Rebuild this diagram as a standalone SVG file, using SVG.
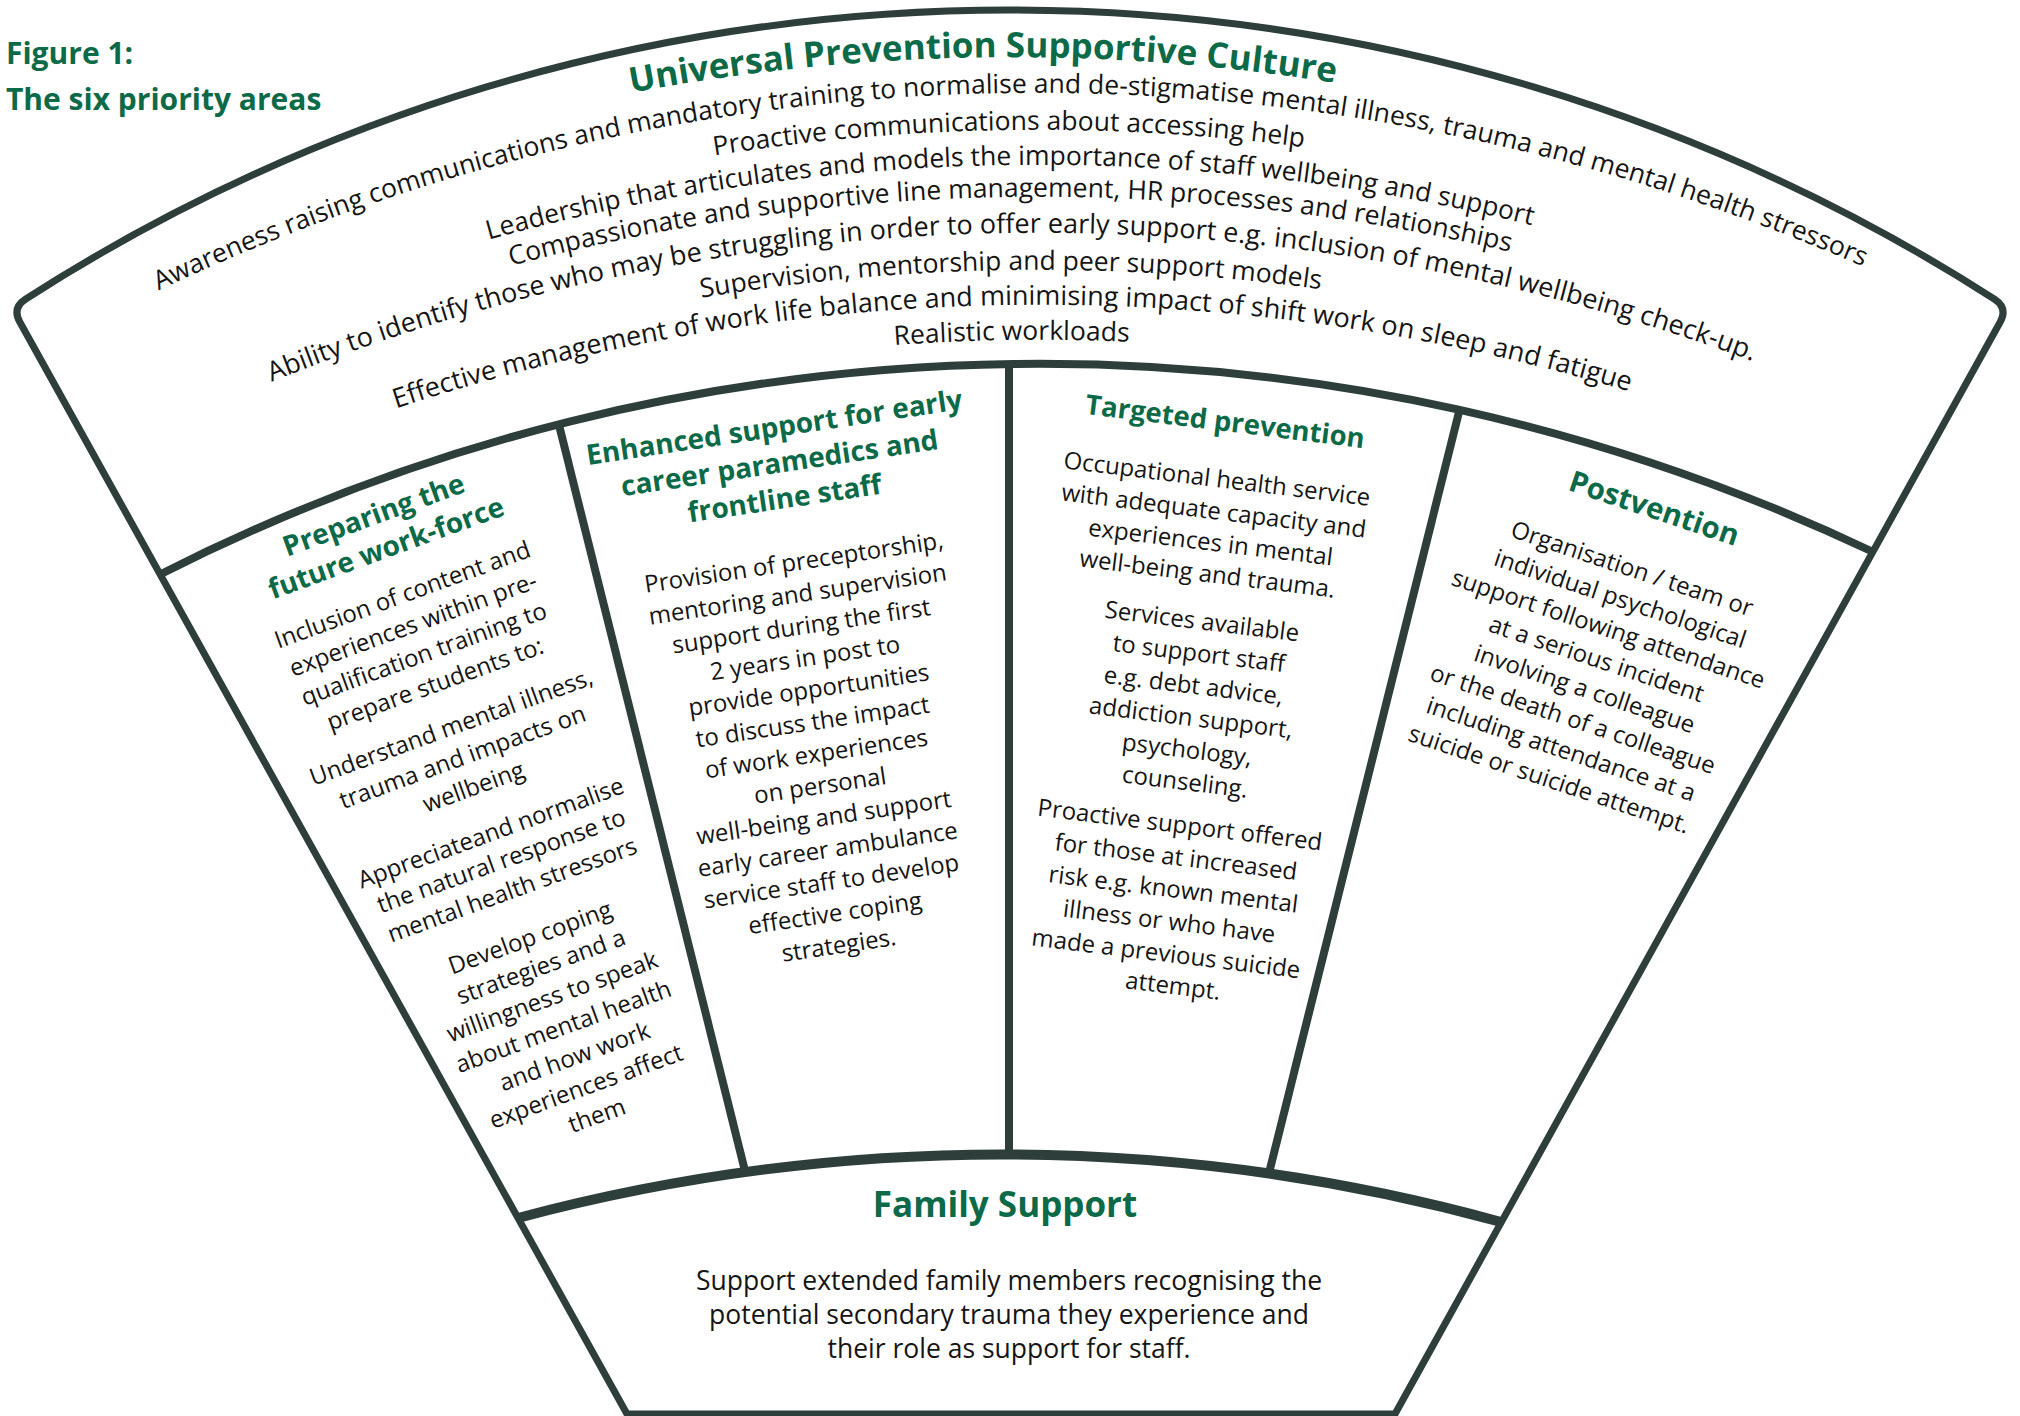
<svg xmlns="http://www.w3.org/2000/svg" width="2020" height="1416" viewBox="0 0 2020 1416">
  <defs>
    <style>
      .frame{fill:none;stroke:#2e3f3b;stroke-linecap:butt;stroke-linejoin:round}
      .hd{font-family:'Open Sans','Noto Sans','DejaVu Sans',sans-serif;font-weight:700;fill:#0d6a48}
      .tx{font-family:'Open Sans','Noto Sans','DejaVu Sans',sans-serif;fill:#151515}
      .mid{text-anchor:middle}
      .u{font-size:26.5px}
      .col{font-size:24px}
      .colhd{font-size:28px}
    </style>
    <!-- baseline arcs for the curved lines of the top band (radius 2050, apex at x=1010 or 985) -->
    <path id="arcTitle" d="M -332.7 536.6 A 2050 2050 0 0 1 2302.7 536.6"/>
    <path id="arcU1" d="M -307.7 572.6 A 2050 2050 0 0 1 2327.7 572.6"/>
    <path id="arcU2" d="M -307.7 609.6 A 2050 2050 0 0 1 2327.7 609.6"/>
    <path id="arcU3" d="M -307.7 644.6 A 2050 2050 0 0 1 2327.7 644.6"/>
    <path id="arcU4" d="M -307.7 676.6 A 2050 2050 0 0 1 2327.7 676.6"/>
    <path id="arcU5" d="M -307.7 712.6 A 2050 2050 0 0 1 2327.7 712.6"/>
    <path id="arcU6" d="M -307.7 749.6 A 2050 2050 0 0 1 2327.7 749.6"/>
    <path id="arcU7" d="M -307.7 784.6 A 2050 2050 0 0 1 2327.7 784.6"/>
    <path id="arcU8" d="M -307.7 819.6 A 2050 2050 0 0 1 2327.7 819.6"/>
  </defs>

  <rect width="2020" height="1416" fill="#ffffff"/>

  <!-- caption -->
  <g id="caption">
    <text class="hd" x="6" y="64" font-size="30">Figure 1:</text>
    <text class="hd" x="6" y="110" font-size="30">The six priority areas</text>
  </g>

  <!-- fan outline and the boundaries between the areas -->
  <g id="connectors" class="frame">
    <path d="M 19.8 322 Q 12 308 25.4 299.2 A 1821 1821 0 0 1 1994.6 299.2 Q 2008 308 2000.2 322 L 1395 1414 L 627 1414 Z" stroke-width="7"/>
    <path d="M 161 574 A 1940.5 1940.5 0 0 1 1871 551" stroke-width="8"/>
    <path d="M 518 1218 A 1876 1876 0 0 1 1501 1222" stroke-width="10"/>
    <line x1="559" y1="425" x2="745" y2="1171" stroke-width="8"/>
    <line x1="1009" y1="364" x2="1009" y2="1156" stroke-width="8"/>
    <line x1="1459" y1="412" x2="1269" y2="1173" stroke-width="8"/>
  </g>

  <!-- top band: the whole block leans slightly up to the right -->
  <g id="universal" transform="rotate(-0.8 1010 220)">
    <text class="hd mid" font-size="35"><textPath href="#arcTitle" startOffset="50%">Universal Prevention Supportive Culture</textPath></text>
    <text class="tx mid u"><textPath href="#arcU1" startOffset="50%">Awareness raising communications and mandatory training to normalise and de-stigmatise mental illness, trauma and mental health stressors</textPath></text>
    <text class="tx mid u"><textPath href="#arcU2" startOffset="50%">Proactive communications about accessing help</textPath></text>
    <text class="tx mid u"><textPath href="#arcU3" startOffset="50%">Leadership that articulates and models the importance of staff wellbeing and support</textPath></text>
    <text class="tx mid u"><textPath href="#arcU4" startOffset="50%">Compassionate and supportive line management, HR processes and relationships</textPath></text>
    <text class="tx mid" font-size="27"><textPath href="#arcU5" startOffset="50%">Ability to identify those who may be struggling in order to offer early support e.g. inclusion of mental wellbeing check-up.</textPath></text>
    <text class="tx mid u"><textPath href="#arcU6" startOffset="50%">Supervision, mentorship and peer support models</textPath></text>
    <text class="tx mid" font-size="27"><textPath href="#arcU7" startOffset="50%">Effective management of work life balance and minimising impact of shift work on sleep and fatigue</textPath></text>
    <text class="tx mid u"><textPath href="#arcU8" startOffset="50%">Realistic workloads</textPath></text>
  </g>

  <!-- column 1 -->
  <g id="preparing">
    <text class="hd mid colhd" transform="translate(377 524) rotate(-20)">Preparing the</text>
    <text class="hd mid colhd" transform="translate(389.5 557) rotate(-20)">future work-force</text>
    <text class="tx mid col" transform="translate(405.2 602.5) rotate(-20)">Inclusion of content and</text>
    <text class="tx mid col" transform="translate(415.9 632.2) rotate(-20)">experiences within pre-</text>
    <text class="tx mid col" transform="translate(426.6 661.6) rotate(-20)">qualification training to</text>
    <text class="tx mid col" transform="translate(437.8 691.7) rotate(-20)">prepare students to:</text>
    <text class="tx mid col" transform="translate(453.9 734.8) rotate(-20)">Understand mental illness,</text>
    <text class="tx mid col" transform="translate(465.2 764.7) rotate(-20)">trauma and impacts on</text>
    <text class="tx mid col" transform="translate(476.4 794.7) rotate(-20)">wellbeing</text>
    <text class="tx mid col" transform="translate(493.6 840.6) rotate(-20)">Appreciateand normalise</text>
    <text class="tx mid col" transform="translate(504.1 868.6) rotate(-20)">the natural response to</text>
    <text class="tx mid col" transform="translate(515 897.7) rotate(-20)">mental health stressors</text>
    <text class="tx mid col" transform="translate(532.9 945.4) rotate(-20)">Develop coping</text>
    <text class="tx mid col" transform="translate(543.8 974.4) rotate(-20)">strategies and a</text>
    <text class="tx mid col" transform="translate(555 1004.4) rotate(-20)">willingness to speak</text>
    <text class="tx mid col" transform="translate(566.2 1034.3) rotate(-20)">about mental health</text>
    <text class="tx mid col" transform="translate(577.5 1064.3) rotate(-20)">and how work</text>
    <text class="tx mid col" transform="translate(588.7 1094.2) rotate(-20)">experiences affect</text>
    <text class="tx mid col" transform="translate(599.6 1123.2) rotate(-20)">them</text>
  </g>

  <!-- column 2 -->
  <g id="enhanced">
    <text class="hd mid colhd" transform="translate(775.6 437) rotate(-8.5)">Enhanced support for early</text>
    <text class="hd mid colhd" transform="translate(781 472.5) rotate(-8.5)">career paramedics and</text>
    <text class="hd mid colhd" transform="translate(786 508) rotate(-8.5)">frontline staff</text>
    <text class="tx mid col" transform="translate(795 570.5) rotate(-8.5)">Provision of preceptorship,</text>
    <text class="tx mid col" transform="translate(798.8 602.4) rotate(-8.5)">mentoring and supervision</text>
    <text class="tx mid col" transform="translate(802.5 634.3) rotate(-8.5)">support during the first</text>
    <text class="tx mid col" transform="translate(806.3 666.2) rotate(-8.5)">2 years in post to</text>
    <text class="tx mid col" transform="translate(810 698.1) rotate(-8.5)">provide opportunities</text>
    <text class="tx mid col" transform="translate(813.8 730) rotate(-8.5)">to discuss the impact</text>
    <text class="tx mid col" transform="translate(817.5 761.9) rotate(-8.5)">of work experiences</text>
    <text class="tx mid col" transform="translate(821.3 793.8) rotate(-8.5)">on personal</text>
    <text class="tx mid col" transform="translate(825 825.7) rotate(-8.5)">well-being and support</text>
    <text class="tx mid col" transform="translate(828.8 857.6) rotate(-8.5)">early career ambulance</text>
    <text class="tx mid col" transform="translate(832.5 889.5) rotate(-8.5)">service staff to develop</text>
    <text class="tx mid col" transform="translate(836.3 921.4) rotate(-8.5)">effective coping</text>
    <text class="tx mid col" transform="translate(840 953.3) rotate(-8.5)">strategies.</text>
  </g>

  <!-- column 3 -->
  <g id="targeted">
    <text class="hd mid" font-size="27.5" transform="translate(1224 431) rotate(7)">Targeted prevention</text>
    <text class="tx mid col" transform="translate(1216 487) rotate(7)">Occupational health service</text>
    <text class="tx mid col" transform="translate(1212.8 519) rotate(7)">with adequate capacity and</text>
    <text class="tx mid col" transform="translate(1209.6 550.5) rotate(7)">experiences in mental</text>
    <text class="tx mid col" transform="translate(1206.4 582) rotate(7)">well-being and trauma.</text>
    <text class="tx mid col" transform="translate(1201 629.5) rotate(7)">Services available</text>
    <text class="tx mid col" transform="translate(1198 661.6) rotate(7)">to support staff</text>
    <text class="tx mid col" transform="translate(1192.5 693.7) rotate(7)">e.g. debt advice,</text>
    <text class="tx mid col" transform="translate(1190 725.8) rotate(7)">addiction support,</text>
    <text class="tx mid col" transform="translate(1186 757.9) rotate(7)">psychology,</text>
    <text class="tx mid col" transform="translate(1184 790) rotate(7)">counseling.</text>
    <text class="tx mid col" transform="translate(1179 833) rotate(7)">Proactive support offered</text>
    <text class="tx mid col" transform="translate(1175 865.2) rotate(7)">for those at increased</text>
    <text class="tx mid col" transform="translate(1172.3 897.4) rotate(7)">risk e.g. known mental</text>
    <text class="tx mid col" transform="translate(1168.3 929.6) rotate(7)">illness or who have</text>
    <text class="tx mid col" transform="translate(1165 961.8) rotate(7)">made a previous suicide</text>
    <text class="tx mid col" transform="translate(1172 994) rotate(7)">attempt.</text>
  </g>

  <!-- column 4 -->
  <g id="postvention">
    <text class="hd mid" font-size="29.5" transform="translate(1651 518) rotate(18.5)">Postvention</text>
    <text class="tx mid col" transform="translate(1629.5 576.5) rotate(18.5)">Organisation / team or</text>
    <text class="tx mid col" transform="translate(1617.6 606.6) rotate(18.5)">individual psychological</text>
    <text class="tx mid col" transform="translate(1605.8 636.6) rotate(18.5)">support following attendance</text>
    <text class="tx mid col" transform="translate(1593.9 666.7) rotate(18.5)">at a serious incident</text>
    <text class="tx mid col" transform="translate(1582.1 696.8) rotate(18.5)">involving a colleague</text>
    <text class="tx mid col" transform="translate(1570.2 726.8) rotate(18.5)">or the death of a colleague</text>
    <text class="tx mid col" transform="translate(1558.4 756.9) rotate(18.5)">including attendance at a</text>
    <text class="tx mid col" transform="translate(1546.5 787) rotate(18.5)">suicide or suicide attempt.</text>
  </g>

  <!-- bottom band -->
  <g id="family">
    <text class="hd mid" x="1005" y="1217" font-size="35">Family Support</text>
    <text class="tx mid u" x="1009" y="1290">Support extended family members recognising the</text>
    <text class="tx mid u" x="1009" y="1324">potential secondary trauma they experience and</text>
    <text class="tx mid u" x="1009" y="1358">their role as support for staff.</text>
  </g>
</svg>
